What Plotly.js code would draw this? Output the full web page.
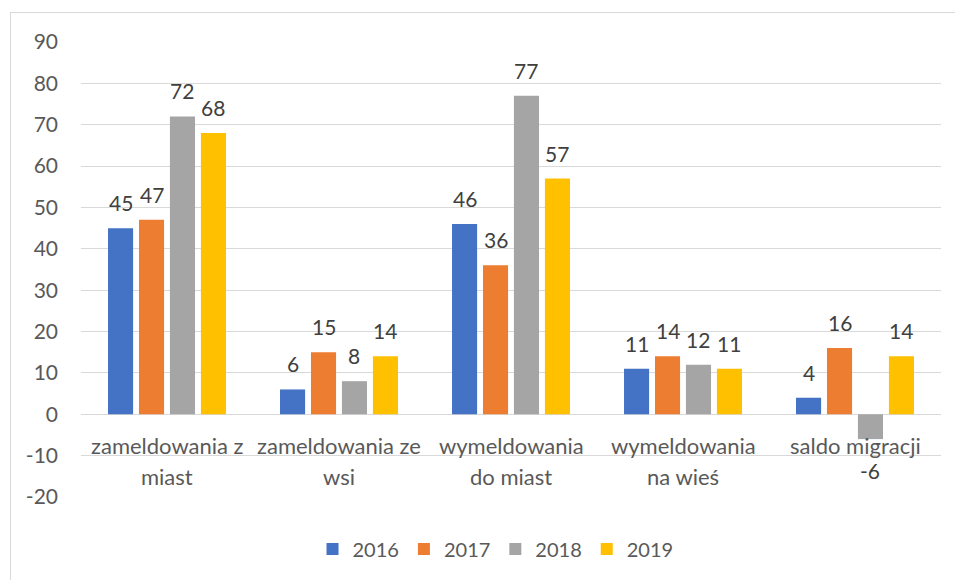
<!DOCTYPE html>
<html>
<head>
<meta charset="utf-8">
<script src="https://cdn.plot.ly/plotly-3.0.1.min.js"></script>
<style>
html,body{margin:0;padding:0;background:#fff;}
#wrap{position:relative;width:955px;height:580px;overflow:hidden;}
#chart{position:absolute;left:0;top:0;width:955px;height:580px;}
#frame{position:absolute;left:10px;top:12px;width:960px;height:600px;border-left:1px solid #D9D9D9;border-top:1px solid #D9D9D9;pointer-events:none;}
</style>
</head>
<body>
<div id="wrap"><div id="chart"></div><div id="frame"></div></div>
<script>
const categories = ["zameldowania z<br>miast", "zameldowania ze<br>wsi", "wymeldowania<br>do miast", "wymeldowania<br>na wieś", "saldo migracji"];
const years = ["2016", "2017", "2018", "2019"];
const v2016 = [45, 6, 46, 11, 4];
const v2017 = [47, 15, 36, 14, 16];
const v2018 = [72, 8, 77, 12, -6];
const v2019 = [68, 14, 57, 11, 14];
const yTicks = [-20, -10, 0, 10, 20, 30, 40, 50, 60, 70, 80, 90];

const series = [v2016, v2017, v2018, v2019];
const colors = ["#4472C4", "#ED7D31", "#A5A5A5", "#FFC000"];
const FONT = "Lato, 'Liberation Sans', sans-serif";
const bargap = 0.28, bargroupgap = 0.19;
const idx = categories.map((c, i) => i);

const traces = series.map((vals, s) => ({
  type: "bar",
  name: years[s],
  x: idx,
  y: vals,
  marker: {color: colors[s]},
  hoverinfo: "none"
}));

const annotations = [];
const slot = (1 - bargap) / series.length;
series.forEach((vals, s) => {
  vals.forEach((v, i) => {
    const neg = v < 0;
    annotations.push({
      x: i + (s - (series.length - 1) / 2) * slot,
      y: v, xref: "x", yref: "y",
      text: String(v), showarrow: false,
      xanchor: "center", yanchor: neg ? "top" : "bottom",
      yshift: neg ? -17 : 11,
      font: {family: FONT, size: 21, color: "#404040"}
    });
  });
});
categories.forEach((c, i) => {
  c.split("<br>").forEach((line, k) => {
    annotations.push({
      x: i, y: 0, xref: "x", yref: "y",
      text: line, showarrow: false,
      xanchor: "center", yanchor: "middle",
      yshift: -31 - 31 * k,
      font: {family: FONT, size: 22, color: "#595959"}
    });
  });
});

const layout = {
  width: 955, height: 580,
  margin: {l: 81, r: 14, t: 42, b: 82},
  paper_bgcolor: "#fff", plot_bgcolor: "#fff",
  barmode: "group", bargap: bargap, bargroupgap: bargroupgap,
  font: {family: FONT, size: 20, color: "#595959"},
  showlegend: true,
  legend: {orientation: "h", x: 0.482, xanchor: "center", y: -0.112, yanchor: "middle",
           font: {family: FONT, size: 20, color: "#595959"}, itemwidth: 30, traceorder: "normal"},
  xaxis: {range: [-0.5, categories.length - 0.5], showticklabels: false, showgrid: false,
          zeroline: false, showline: false, ticks: "", fixedrange: true},
  yaxis: {range: [-20, 90], tickvals: yTicks, ticktext: yTicks.map(String),
          showgrid: true, gridcolor: "#D9D9D9", gridwidth: 1,
          zeroline: true, zerolinecolor: "#D9D9D9", zerolinewidth: 1,
          showline: false, ticks: "", ticklabelstandoff: 22,
          tickfont: {family: FONT, size: 21, color: "#595959"}, fixedrange: true},
  annotations: annotations
};

Plotly.newPlot("chart", traces, layout, {displayModeBar: false, staticPlot: true});
</script>
</body>
</html>
